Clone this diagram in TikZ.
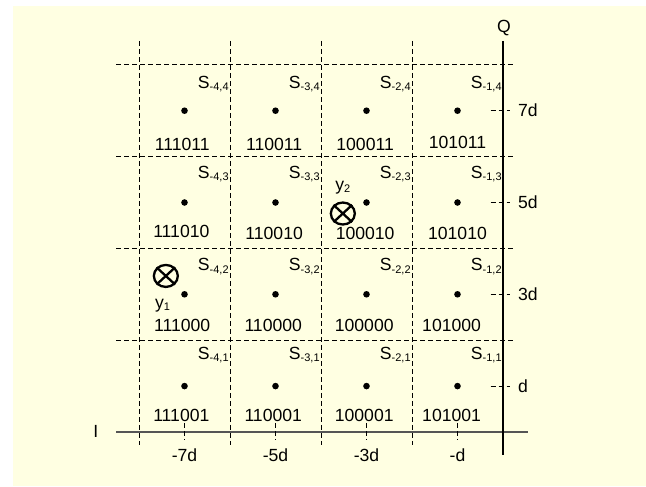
\documentclass[tikz,border=0pt]{standalone}
\usepackage{fontspec}
\setmainfont{Liberation Sans}
\usetikzlibrary{shapes.geometric}
\definecolor{bgyellow}{RGB}{255,255,226}
\definecolor{axisgray}{RGB}{85,85,85}
\newcommand{\Slab}[2]{S\raisebox{-2.4pt}{\fontsize{11}{11}\selectfont #1,#2}}
\begin{document}
\begin{tikzpicture}[x=45.5pt,y=45.9pt,
  txt/.style={font=\fontsize{17.6}{17.6}\selectfont, inner sep=0pt},
  gridline/.style={dash pattern=on 5pt off 3pt, line width=0.8pt},
  tickline/.style={dash pattern=on 5pt off 3pt, line width=0.8pt},
  iaxis/.style={draw=axisgray, line width=1.6pt},
  qaxis/.style={draw=black, line width=1.1pt},
  pointdot/.style={circle, fill=black, inner sep=0pt, minimum size=6.6pt},
  obs/.style={ellipse, draw=black, line width=2.3pt, minimum width=24pt, minimum height=22pt, inner sep=0pt}]
\useasboundingbox (-11.055,-1.1765) rectangle (3.1429,9.4118);
\fill[bgyellow] (-10.769,-1.1765) rectangle (3.1429,9.281);
% dashed grid
\foreach \g in {-8,-6,-4,-2}{
  \coordinate (vt\g) at (\g,8.52);
  \coordinate (vb\g) at (\g,-0.28);
  \draw[gridline] (vt\g) -- (vb\g);
}
\foreach \g in {8,6,4,2}{
  \coordinate (hl\g) at (-8.5,\g);
  \coordinate (hr\g) at (0.23,\g);
  \draw[gridline] (hl\g) -- (hr\g);
}
% axes
\coordinate (il) at (-8.5,0);
\coordinate (ir) at (0.54,0);
\coordinate (qt) at (0,8.52);
\coordinate (qb) at (0,-0.5);
\draw[iaxis] (il) -- (ir);
\draw[qaxis] (qt) -- (qb);
\node[txt] (Qlab) at (0.02,8.81) {Q};
\node[txt] (Ilab) at (-8.95,0.02) {I};
% ticks on I
\foreach \c/\t in {-7/-7d,-5/-5d,-3/-3d,-1/-d}{
  \coordinate (ta\c) at (\c,0.2);
  \coordinate (tb\c) at (\c,-0.15);
  \draw[tickline] (ta\c) -- (tb\c);
  \node[txt] (il\c) at (\c,-0.5) {\t};
}
% ticks on Q
\foreach \r/\t in {7/7d,5/5d,3/3d,1/d}{
  \coordinate (qa\r) at (-0.27,\r);
  \coordinate (qc\r) at (0.16,\r);
  \draw[tickline] (qa\r) -- (qc\r);
  \node[txt,anchor=west] (ql\r) at (0.33,\r) {\t};
}
% points and S labels
\foreach \c/\i in {-7/-4,-5/-3,-3/-2,-1/-1}{
  \foreach \r/\j/\so in {7/4/0.49,5/3/0.53,3/2/0.51,1/1/0.59}{
    \node[pointdot] (p\i\j) at (\c,\r) {};
    \node[txt,anchor=base east] (s\i\j) at (\c+0.975,\r+\so) {\Slab{\i}{\j}};
  }
}
% binary labels
\node[txt,anchor=base] (b-44) at (-7.05,6.13) {111011};
\node[txt,anchor=base] (b-34) at (-5.03,6.13) {110011};
\node[txt,anchor=base] (b-24) at (-3.03,6.13) {100011};
\node[txt,anchor=base] (b-14) at (-1.0,6.18) {101011};
\node[txt,anchor=base] (b-43) at (-7.07,4.23) {111010};
\node[txt,anchor=base] (b-33) at (-5.03,4.19) {110010};
\node[txt,anchor=base] (b-23) at (-3.03,4.19) {100010};
\node[txt,anchor=base] (b-13) at (-1.0,4.19) {101010};
\node[txt,anchor=base] (b-42) at (-7.05,2.185) {111000};
\node[txt,anchor=base] (b-32) at (-5.05,2.185) {110000};
\node[txt,anchor=base] (b-22) at (-3.05,2.185) {100000};
\node[txt,anchor=base] (b-12) at (-1.13,2.185) {101000};
\node[txt,anchor=base] (b-41) at (-7.07,0.218) {111001};
\node[txt,anchor=base] (b-31) at (-5.05,0.218) {110001};
\node[txt,anchor=base] (b-21) at (-3.05,0.218) {100001};
\node[txt,anchor=base] (b-11) at (-1.13,0.218) {101001};
% received samples
\node[obs] (y1) at (-7.41,3.40) {};
\draw[line width=2.3pt] (y1.north east) -- (y1.south west) (y1.north west) -- (y1.south east);
\node[obs] (y2) at (-3.52,4.76) {};
\draw[line width=2.3pt] (y2.north east) -- (y2.south west) (y2.north west) -- (y2.south east);
\node[txt,anchor=base west] (y1lab) at (-7.65,2.70) {y\raisebox{-2.4pt}{\fontsize{11}{11}\selectfont 1}};
\node[txt,anchor=base west] (y2lab) at (-3.69,5.27) {y\raisebox{-2.4pt}{\fontsize{11}{11}\selectfont 2}};
\end{tikzpicture}
\end{document}
